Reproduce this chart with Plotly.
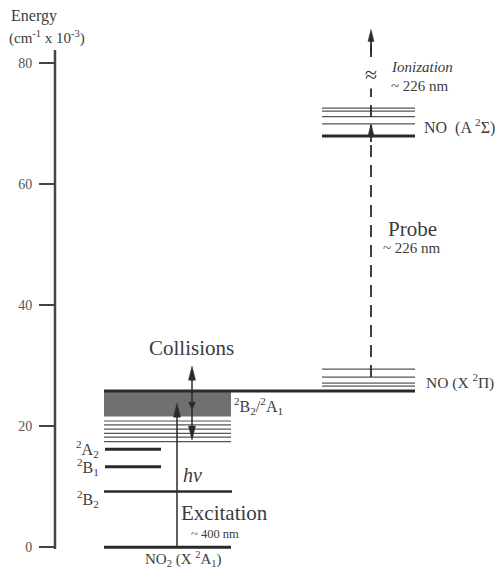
import plotly.graph_objects as go

# ---------------- data (energies in cm^-1 x 10^-3) ----------------
tick_vals = [0, 20, 40, 60, 80]
tick_text = ["0", "20", "40", "60", "80"]

no2_ground = 0.0
no2_2B2 = 9.2
no2_2B1 = 13.3
no2_2A2 = 16.2
no2_band_thin = [17.45, 18.2, 18.8, 19.5, 20.2, 20.85]
no2_band_dense = [21.6, 25.8]
no2_band_top = 25.8

no_X_levels_thin = [29.4, 28.1]
no_X_levels_gray = [27.1, 26.6]
no_X_ground = 25.8

no_A_levels_thin = [72.5, 72.0, 71.1, 69.9]
no_A_ground = 67.9

excitation_tip = 23.8
collision_top, collision_mid, collision_bottom = 29.9, 23.8, 17.7
probe_start, probe_tip = 28.1, 69.9
ionization_tip = 85.5
break_E = 78.0
axis_top = 82.1

# ---------------- layout helpers ----------------
PX_PER_UNIT = 6.0575
Y_RANGE = [-3.417, 90.35]
DARK = "#2a2a2a"
TXT = "#3c3c3c"
FONT = "Liberation Serif"

# x columns (pixel-like layout units)
AX_X = 55
NO2_L, NO2_R, NO2_SHORT_R = 104, 231, 161
NO_L, NO_R = 322, 415
EXC_X, COL_X, PROBE_X = 177, 192, 371

fig = go.Figure()
shapes = []


def hline(x0, x1, e, width, color=DARK):
    shapes.append(dict(type="line", xref="x", yref="y", x0=x0, x1=x1, y0=e, y1=e,
                       line=dict(color=color, width=width)))


def vline(x, e0, e1, width=1.5, color=DARK, dash=None):
    ln = dict(color=color, width=width)
    if dash:
        ln["dash"] = dash
    shapes.append(dict(type="line", xref="x", yref="y", x0=x, x1=x, y0=e0, y1=e1, line=ln))


def head(x, tip, direction=1, half_w=3.5, length_px=14):
    base = tip - direction * length_px / PX_PER_UNIT
    shapes.append(dict(type="path", xref="x", yref="y",
                       path=f"M {x-half_w},{base} L {x},{tip} L {x+half_w},{base} Z",
                       fillcolor=DARK, line=dict(color=DARK, width=0.5)))


# axis line
vline(AX_X, -0.3, axis_top, width=2.5, color="#444")

# NO2 dense band
shapes.append(dict(type="rect", xref="x", yref="y", x0=NO2_L, x1=NO2_R,
                   y0=no2_band_dense[0], y1=no2_band_dense[1],
                   fillcolor="#707070", line=dict(width=0)))
for e in no2_band_thin:
    hline(NO2_L, NO2_R, e, 1.2, "#555")
hline(NO2_L, NO_R, no2_band_top, 3)

# NO2 discrete levels
hline(NO2_L, NO2_R, no2_ground, 3)
hline(NO2_L, NO2_R + 1, no2_2B2, 2.5)
hline(NO2_L + 1, NO2_SHORT_R, no2_2B1, 3)
hline(NO2_L + 1, NO2_SHORT_R, no2_2A2, 3)

# NO X levels
for e in no_X_levels_thin:
    hline(NO_L, NO_R, e, 1.2, "#555")
for e in no_X_levels_gray:
    hline(NO_L, NO_R, e, 1.6, "#888")

# NO A levels
for e in no_A_levels_thin:
    hline(NO_L, NO_R, e, 1.2, "#555")
hline(NO_L, NO_R, no_A_ground, 3)

# excitation arrow
vline(EXC_X, no2_ground, excitation_tip - 1, 1.5)
head(EXC_X, excitation_tip, 1)

# collisions double arrow
vline(COL_X, collision_bottom + 1, collision_top - 1, 1.5)
head(COL_X, collision_top, 1)
head(COL_X, collision_bottom, -1)
head(COL_X, collision_mid - 1.0, -1, half_w=3.5, length_px=7)

# probe / ionization dashed line
vline(PROBE_X, probe_start, ionization_tip - 1, 1.8, dash="12px,8px")
vline(PROBE_X, probe_tip - 3, probe_tip - 1, 1.8)
head(PROBE_X, probe_tip, 1, half_w=3, length_px=12)
vline(PROBE_X, ionization_tip - 4, ionization_tip - 1, 1.8)
head(PROBE_X, ionization_tip, 1, half_w=3, length_px=12)

# ---------------- text ----------------
ann = []


def txt(x, e, s, size=13, anchor="center", italic=False, bg=None):
    d = dict(x=x, y=e, xref="x", yref="y", text=f"<i>{s}</i>" if italic else s,
             showarrow=False, xanchor=anchor, yanchor="middle",
             font=dict(family=FONT, size=size, color=TXT))
    if bg:
        d["bgcolor"] = bg
    ann.append(d)


txt(9, 87.7, "Energy", 16, "left")
txt(7, 84.1, "(cm<sup>-1</sup> x 10<sup>-3</sup>)", 15, "left")

txt(PROBE_X, break_E, "≈", 22, bg="white")
txt(389, 79.3, "Ionization", 15, "left", italic=True)
txt(389, 76.1, "~ 226 nm", 15, "left")
txt(422, 69.4, "NO  (A <sup>2</sup>Σ)", 16, "left")
txt(412, 52.6, "Probe", 21)
txt(412, 49.4, "~ 226 nm", 15)
txt(424, 27.3, "NO (X <sup>2</sup>Π)", 15.5, "left")
txt(191, 32.9, "Collisions", 21)
txt(232, 23.4, "<sup>2</sup>B<sub>2</sub>/<sup>2</sup>A<sub>1</sub>", 16, "left")
txt(101, 16.3, "<sup>2</sup>A<sub>2</sub>", 16, "right")
txt(101, 13.2, "<sup>2</sup>B<sub>1</sub>", 16, "right")
txt(101, 7.9, "<sup>2</sup>B<sub>2</sub>", 16, "right")
txt(192, 11.9, "hν", 20, italic=True)
txt(224, 5.6, "Excitation", 21)
txt(215, 2.2, "~ 400 nm", 12.5)
txt(183, -2.0, "NO<sub>2</sub> (X <sup>2</sup>A<sub>1</sub>)", 15)

fig.update_layout(
    width=498, height=568, autosize=False,
    margin=dict(l=0, r=0, t=0, b=0, pad=0),
    paper_bgcolor="white", plot_bgcolor="white",
    showlegend=False,
    shapes=shapes, annotations=ann,
    xaxis=dict(range=[0, 498], visible=False, domain=[0, 1], fixedrange=True),
    yaxis=dict(range=Y_RANGE, tickvals=tick_vals, ticktext=tick_text,
               ticks="outside", ticklen=16, tickwidth=2, tickcolor="#444",
               showline=False, showgrid=False, zeroline=False,
               anchor="free", position=AX_X / 498, automargin=False,
               ticklabelstandoff=4,
               tickfont=dict(family=FONT, size=14, color="#555"), fixedrange=True),
)

fig.write_html("out.html")
